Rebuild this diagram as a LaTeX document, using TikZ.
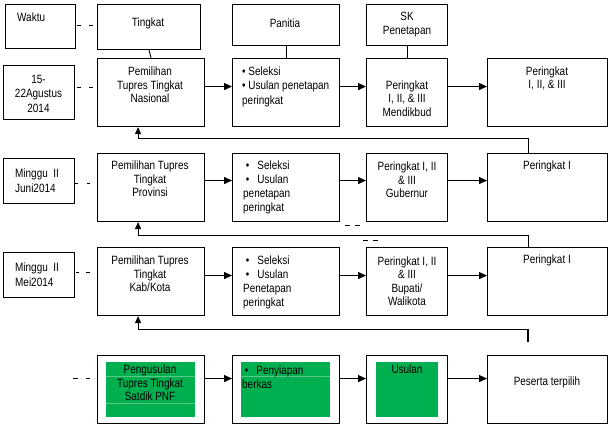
\documentclass[tikz,border=0pt]{standalone}
\usepackage{fontspec}
\setmainfont[FakeStretch=0.83]{Liberation Sans}
\usetikzlibrary{arrows.meta}
\definecolor{tgreen}{RGB}{0,176,80}
\definecolor{tline}{RGB}{90,200,135}
\begin{document}
\begin{tikzpicture}[x=1pt,y=-1pt,
 box/.style={draw=black, line width=1.1pt, inner sep=0pt, anchor=north west},
 gbox/.style={fill=tgreen, inner sep=0pt, anchor=north west},
 txt/.style={inner sep=0pt, font=\fontsize{12}{13.5}\selectfont, align=center},
 ltxt/.style={inner sep=0pt, font=\fontsize{12}{14}\selectfont, align=left, anchor=west},
 arr/.style={line width=1.2pt, -{Triangle[length=8pt,width=7pt]}},
 fb/.style={line width=1.1pt},
 dsh/.style={line width=0.9pt},
 conn/.style={line width=0.9pt}
]
\useasboundingbox (0,0) rectangle (612,427);
% header row
\node[box, minimum width=70pt, minimum height=44pt] (waktu) at (5,4) {};
\node[box, minimum width=103pt, minimum height=45pt] (tingkat) at (97,4) {};
\node[box, minimum width=107pt, minimum height=41pt] (panitia) at (232,4) {};
\node[box, minimum width=81pt, minimum height=41pt] (sk) at (366,4) {};
% row 1
\node[box, minimum width=71pt, minimum height=54pt] (date) at (3,65) {};
\node[box, minimum width=107pt, minimum height=68pt] (nas) at (97,58) {};
\node[box, minimum width=107pt, minimum height=68pt] (sela) at (232,58) {};
\node[box, minimum width=81pt, minimum height=68pt] (mend) at (366,58) {};
\node[box, minimum width=120pt, minimum height=68pt] (pera) at (487,58) {};
% row 2
\node[box, minimum width=71pt, minimum height=45pt] (juni) at (3,158) {};
\node[box, minimum width=107pt, minimum height=68pt] (prov) at (97,153) {};
\node[box, minimum width=107pt, minimum height=68pt] (selb) at (232,153) {};
\node[box, minimum width=81pt, minimum height=68pt] (gub) at (366,153) {};
\node[box, minimum width=120pt, minimum height=68pt] (perb) at (487,153) {};
% row 3
\node[box, minimum width=71pt, minimum height=45pt] (mei) at (3,252) {};
\node[box, minimum width=107pt, minimum height=68pt] (kab) at (97,247) {};
\node[box, minimum width=107pt, minimum height=68pt] (selc) at (232,247) {};
\node[box, minimum width=81pt, minimum height=68pt] (bup) at (366,247) {};
\node[box, minimum width=120pt, minimum height=68pt] (perc) at (487,247) {};
% row 4
\node[box, minimum width=107pt, minimum height=68pt] (peng) at (97,355) {};
\node[box, minimum width=107pt, minimum height=68pt] (peny) at (232,355) {};
\node[box, minimum width=81pt, minimum height=68pt] (usul) at (366,355) {};
\node[box, minimum width=120pt, minimum height=68pt] (pes) at (487,355) {};
\node[gbox, minimum width=89pt, minimum height=55pt] (penggr) at (106,362) {};
\node[gbox, minimum width=89pt, minimum height=55pt] (penygr) at (241,362) {};
\node[gbox, minimum width=62pt, minimum height=55pt] (usulgr) at (376,362) {};
\draw[tline, line width=0.5pt] (penggr.west |- 0,376) -- (penggr.east |- 0,376);
\draw[tline, line width=0.5pt] (penggr.west |- 0,403) -- (penggr.east |- 0,403);
\draw[tline, line width=0.5pt] (penygr.west |- 0,376) -- (penygr.east |- 0,376);
% texts
\node[ltxt] (twaktu) at (17,17) {Waktu};
\node[txt] (ttingkat) at (148,23) {Tingkat};
\node[txt] (tpanitia) at (285,23) {Panitia};
\node[txt] (tsk) at (407,24.5) {SK\\Penetapan};
\node[txt, font=\fontsize{12}{14.5}\selectfont] (tdate) at (38.5,93.5) {15-\\22Agustus\\2014};
\node[txt] (tnas) at (150,85) {Pemilihan\\Tupres Tingkat\\Nasional};
\node[ltxt, font=\fontsize{12}{14.5}\selectfont] (tsela) at (242,86.5) {\textbullet\ Seleksi\\\textbullet\ Usulan penetapan\\peringkat};
\node[txt] (tmend) at (407,98.5) {Peringkat\\I, II, \& III\\Mendikbud};
\node[txt] (tpera) at (547,78.5) {Peringkat\\I, II, \& III};
\node[ltxt, font=\fontsize{12}{15}\selectfont] (tjuni) at (15,180.5) {Minggu\ \ II\\Juni2014};
\node[txt] (tprov) at (150,179) {Pemilihan Tupres\\Tingkat\\Provinsi};
\node[ltxt] (tselb) at (243,187.5) {\ \textbullet\hspace{8pt}Seleksi\\\ \textbullet\hspace{8pt}Usulan\\penetapan\\peringkat};
\node[txt] (tgub) at (407,180) {Peringkat I, II\\\& III\\Gubernur};
\node[txt] (tperb) at (547,166) {Peringkat I};
\node[ltxt, font=\fontsize{12}{15}\selectfont] (tmei) at (15,275) {Minggu\ \ II\\Mei2014};
\node[txt] (tkab) at (150,274) {Pemilihan Tupres\\Tingkat\\Kab/Kota};
\node[ltxt] (tselc) at (243,282.5) {\ \textbullet\hspace{8pt}Seleksi\\\ \textbullet\hspace{8pt}Usulan\\Penetapan\\peringkat};
\node[txt] (tbup) at (407,281) {Peringkat I, II\\\& III\\Bupati/\\Walikota};
\node[txt] (tperc) at (547,260) {Peringkat I};
\node[txt] (tpeng) at (150,383) {Pengusulan\\Tupres Tingkat\\Satdik PNF};
\node[ltxt] (tpeny) at (242,377) {\ \textbullet\hspace{8pt}Penyiapan\\berkas};
\node[txt] (tusul) at (407,369) {Usulan};
\node[txt] (tpes) at (547,382) {Peserta terpilih};
% vertical connectors
\draw[conn] (tingkat.south) -- (nas.north);
\draw[conn] (panitia.south) -- (sela.north);
\draw[conn] (sk.south) -- (mend.north);
% arrows
\draw[arr] ([yshift=6pt]nas.east) -- ([yshift=6pt]sela.west);
\draw[arr] ([yshift=6pt]sela.east) -- ([yshift=6pt]mend.west);
\draw[arr] ([yshift=6pt]mend.east) -- ([yshift=6pt]pera.west);
\draw[arr] ([yshift=7pt]prov.east) -- ([yshift=7pt]selb.west);
\draw[arr] ([yshift=7pt]selb.east) -- ([yshift=7pt]gub.west);
\draw[arr] ([yshift=7pt]gub.east) -- ([yshift=7pt]perb.west);
\draw[arr] ([yshift=6pt]kab.east) -- ([yshift=6pt]selc.west);
\draw[arr] ([yshift=6pt]selc.east) -- ([yshift=6pt]bup.west);
\draw[arr] ([yshift=6pt]bup.east) -- ([yshift=6pt]perc.west);
\draw[arr] ([yshift=11pt]peng.east) -- ([yshift=11pt]peny.west);
\draw[arr] ([yshift=11pt]peny.east) -- ([yshift=11pt]usul.west);
\draw[arr] ([yshift=11pt]usul.east) -- ([yshift=11pt]pes.west);
% feedback
\draw[fb, -{Triangle[length=7pt,width=6pt]}] ([xshift=-19pt]perb.north) |- ([xshift=-13pt,yshift=-11pt]nas.south) -- ([xshift=-13pt]nas.south);
\draw[fb, -{Triangle[length=7pt,width=6pt]}] ([xshift=-19pt]perc.north) |- ([xshift=-13pt,yshift=-13pt]prov.south) -- ([xshift=-13pt]prov.south);
\coordinate (free) at (528,342);
\draw[fb, -{Triangle[length=7pt,width=6pt]}] (free) |- ([xshift=-13pt,yshift=-13pt]kab.south) -- ([xshift=-13pt]kab.south);
% dashes
\draw[dsh] (77,25) -- (81,25) (89,25) -- (93,25);
\draw[dsh] (77,87) -- (81,87) (89,87) -- (93,87);
\draw[dsh] (75,183) -- (78,183) (87,183) -- (90,183);
\draw[dsh] (76,272) -- (79,272) (86,272) -- (90,272);
\draw[dsh] (73,378) -- (78,378) (86,378) -- (90,378);
\draw[dsh] (345,225) -- (350,225) (355,225) -- (360,225);
\draw[dsh] (363,240) -- (368,240) (373,240) -- (378,240);
\end{tikzpicture}
\end{document}
